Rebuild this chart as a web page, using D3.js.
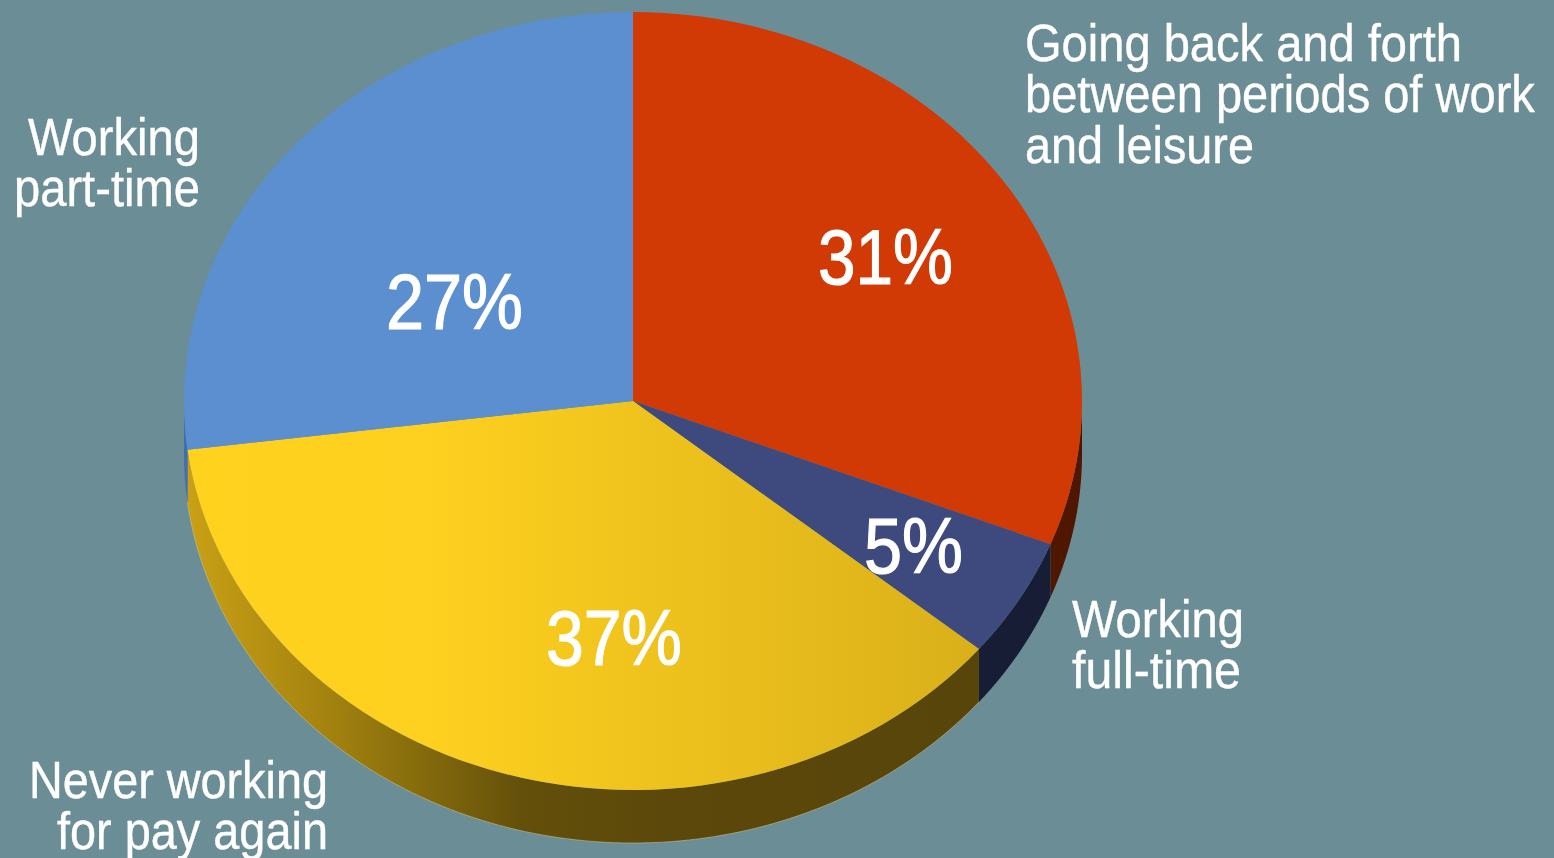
<!DOCTYPE html>
<html><head><meta charset="utf-8">
<script src="https://cdn.jsdelivr.net/npm/d3@7/dist/d3.min.js"></script>
<style>html,body{margin:0;padding:0;background:#6b8d96;overflow:hidden}
text{font-family:"Liberation Sans",sans-serif;fill:#fff}</style>
</head><body><script>
const categories = ["Going back and forth between periods of work and leisure","Working full-time","Never working for pay again","Working part-time"];
const values = [31,5,37,27];
const topColors = ["#d23a05","#3e4a7e","url(#topYellow)","#5c8fd0"];
const wallColors = ["#4f1600","#171d35","url(#wallYellow)","#3f6fb2"];
const percentLabels = ["31%","5%","37%","27%"];
const percentX = [818,864,546,386];
const percentY = [284,573,665,329];
const percentWidths = [135,99,136,137];
const labelLines = [["Going back and forth","between periods of work","and leisure"],["Working","full-time"],["Never working","for pay again"],["Working","part-time"]];
const labelX = [1025,1072,29,28];
const labelY = [61,637,798,155];
const labelWidths = [[437,510,229],[172,169],[299,271],[172,186]];
const labelOffsets = [[0,0,0],[0,0],[0,28],[0,-14]];

const W=1554,H=858,cx=633,cy=401,rx=449,ry=389,depth=53;
const svg=d3.select("body").append("svg").attr("width",W).attr("height",H).style("display","block");
const defs=svg.append("defs");
function grad(id,x1,x2,stops){
  const g=defs.append("linearGradient").attr("id",id).attr("gradientUnits","userSpaceOnUse")
    .attr("x1",x1).attr("x2",x2).attr("y1",0).attr("y2",0);
  stops.forEach(s=>g.append("stop").attr("offset",s[0]).attr("stop-color",s[1]));
}
grad("topYellow",188-cx,978-cx,[[0,"#ffd21e"],[0.3,"#fed01f"],[1,"#d9b01a"]]);
grad("wallYellow",188,978,[[0,"#c9a015"],[0.18,"#a3820f"],[0.3,"#846a0c"],[0.42,"#64500a"],[0.6,"#5c480a"],[1,"#58450a"]]);

const pie=d3.pie().sort(null)(values);
const px=a=>cx+rx*Math.sin(a), py=a=>cy-ry*Math.cos(a);
const wall=d3.area().x(px).y0(py).y1(a=>py(a)+depth);
const lo=Math.PI/2, hi=Math.PI*1.5;
const wallG=svg.append("g");
pie.forEach((p,i)=>{
  const a0=Math.max(p.startAngle,lo), a1=Math.min(p.endAngle,hi);
  if(a1<=a0) return;
  wallG.append("path").attr("d",wall(d3.range(0,121).map(k=>a0+(a1-a0)*k/120))).attr("fill",wallColors[i]);
});
// faint light rim along the lower edge of the wall
const rim=d3.line().x(px).y(a=>py(a)+depth);
wallG.append("path").attr("d",rim(d3.range(0,121).map(k=>pie[2].startAngle+(pie[2].endAngle-pie[2].startAngle)*k/120)))
  .attr("fill","none").attr("stroke","#cfc79a").attr("stroke-width",1).attr("stroke-opacity",.5);

const arc=d3.arc().innerRadius(0).outerRadius(rx);
const face=svg.append("g").attr("transform",`translate(${cx},${cy}) scale(1,${ry/rx})`);
face.selectAll("path").data(pie).join("path").attr("d",arc).attr("fill",(d,i)=>topColors[i]);

function fitted(t,x,y,w,size,bolden){
  const n=svg.append("text").attr("font-size",size).text(t);
  if(bolden) n.attr("stroke","#fff").attr("stroke-width",bolden);
  n.attr("transform",`translate(${x},${y}) scale(${w/n.node().getComputedTextLength()},1)`);
}
percentLabels.forEach((t,i)=>fitted(t,percentX[i],percentY[i],percentWidths[i],78,1.2));
labelLines.forEach((ls,i)=>ls.forEach((t,j)=>
  fitted(t,labelX[i]+labelOffsets[i][j],labelY[i]+j*51,labelWidths[i][j],51,0.4)));
</script></body></html>
